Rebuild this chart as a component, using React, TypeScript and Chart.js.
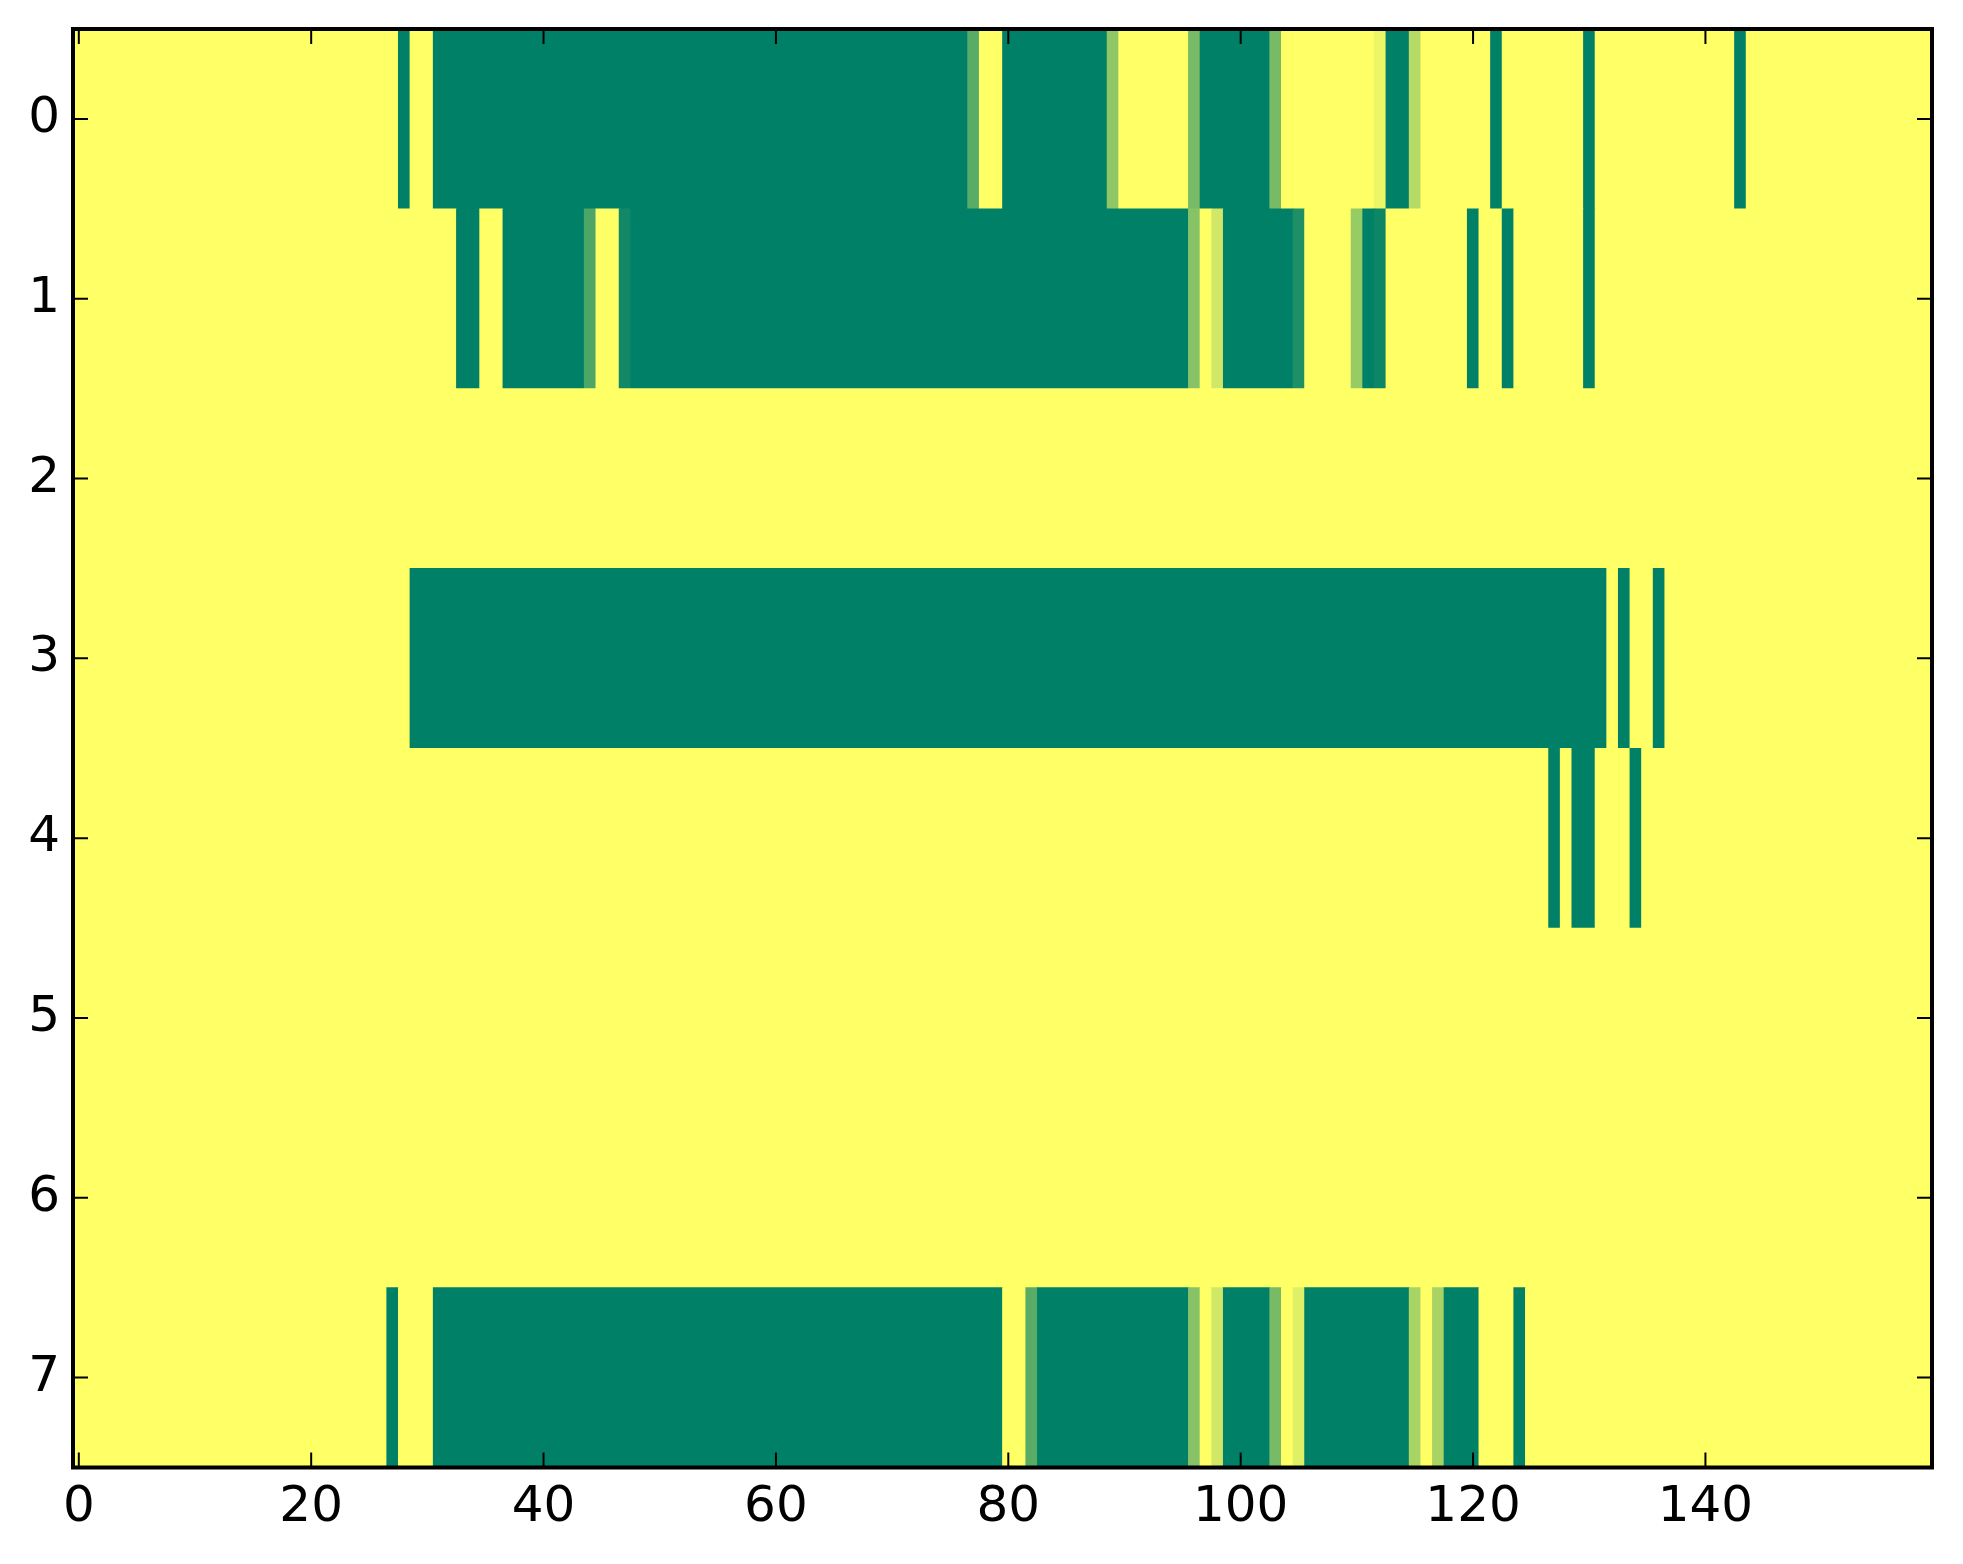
import { useEffect, useRef } from 'react';
import { Chart, registerables } from 'chart.js';

Chart.register(...registerables);

// rows of the image, top to bottom
const rowLabels = ['0', '1', '2', '3', '4', '5', '6', '7'];
const columnCount = 160;
const xTickValues = [0, 20, 40, 60, 80, 100, 120, 140];

// cells default to 1 (yellow); runs are [firstCol, lastCol, value]
const backgroundValue = 1;
const row0Runs = [
  [28, 28, 0], [31, 76, 0], [77, 77, 0.35], [80, 88, 0], [89, 89, 0.56],
  [96, 96, 0.47], [97, 102, 0], [103, 103, 0.47], [112, 112, 0.93],
  [113, 114, 0], [115, 115, 0.71], [122, 122, 0], [130, 130, 0], [143, 143, 0],
];
const row1Runs = [
  [33, 34, 0], [37, 43, 0], [44, 44, 0.3], [47, 47, 0.07], [48, 95, 0],
  [96, 96, 0.53], [98, 98, 0.82], [99, 104, 0], [105, 105, 0.12],
  [110, 110, 0.59], [111, 111, 0], [112, 112, 0.05], [120, 120, 0],
  [123, 123, 0], [130, 130, 0],
];
const row2Runs: number[][] = [];
const row3Runs = [[29, 131, 0], [133, 133, 0], [136, 136, 0]];
const row4Runs = [[127, 127, 0], [129, 130, 0], [134, 134, 0]];
const row5Runs: number[][] = [];
const row6Runs: number[][] = [];
const row7Runs = [
  [27, 27, 0], [31, 79, 0], [82, 82, 0.35], [83, 95, 0], [96, 96, 0.53],
  [98, 98, 0.82], [99, 102, 0], [103, 103, 0.47], [105, 105, 0.88],
  [106, 114, 0], [115, 115, 0.66], [117, 117, 0.66], [118, 120, 0], [124, 124, 0],
];
const allRowRuns = [row0Runs, row1Runs, row2Runs, row3Runs, row4Runs, row5Runs, row6Runs, row7Runs];

// matplotlib "summer" colormap
function summer(v: number) {
  const r = Math.round(255 * v);
  const g = Math.round(255 * (0.5 + v / 2));
  return `rgb(${r},${g},102)`;
}

function buildBars() {
  const points: { x: [number, number]; y: string }[] = [];
  const colors: string[] = [];
  allRowRuns.forEach((runs, r) => {
    const cells = new Array(columnCount).fill(backgroundValue);
    runs.forEach(([a, b, v]) => {
      for (let c = a; c <= b; c++) cells[c] = v;
    });
    let start = 0;
    for (let c = 1; c <= columnCount; c++) {
      if (c === columnCount || cells[c] !== cells[start]) {
        points.push({ x: [start - 0.5, c - 0.5], y: rowLabels[r] });
        colors.push(summer(cells[start]));
        start = c;
      }
    }
  });
  return { points, colors };
}

// inward ticks on all four sides plus the black frame, like matplotlib classic
const frameTicks = {
  id: 'frameTicks',
  afterDatasetsDraw(chart: Chart) {
    const { ctx, chartArea, scales } = chart;
    const { left, right, top, bottom } = chartArea;
    const len = 15;
    ctx.save();
    ctx.strokeStyle = '#000';
    ctx.lineWidth = 2;
    ctx.beginPath();
    const xs = scales.x;
    xs.ticks.forEach((_, i) => {
      const px = xs.getPixelForTick(i);
      ctx.moveTo(px, bottom); ctx.lineTo(px, bottom - len);
      ctx.moveTo(px, top); ctx.lineTo(px, top + len);
    });
    const ys = scales.y;
    ys.ticks.forEach((_, i) => {
      const py = ys.getPixelForTick(i);
      ctx.moveTo(left, py); ctx.lineTo(left + len, py);
      ctx.moveTo(right, py); ctx.lineTo(right - len, py);
    });
    ctx.stroke();
    ctx.lineWidth = 4;
    ctx.strokeRect(left, top, right - left, bottom - top);
    ctx.restore();
  },
};

export default function App() {
  const canvasRef = useRef<HTMLCanvasElement>(null);
  const chartRef = useRef<Chart | null>(null);

  useEffect(() => {
    if (!canvasRef.current) return;
    chartRef.current?.destroy();
    const { points, colors } = buildBars();
    const font = { family: '"DejaVu Sans", sans-serif', size: 50 };

    chartRef.current = new Chart(canvasRef.current, {
      type: 'bar',
      data: {
        labels: rowLabels,
        datasets: [
          {
            data: points as any,
            backgroundColor: colors,
            borderWidth: 0,
            categoryPercentage: 1,
            barPercentage: 1,
          },
        ],
      },
      options: {
        indexAxis: 'y',
        responsive: false,
        devicePixelRatio: 1,
        animation: false,
        layout: { padding: { top: 29, right: 31, left: 0, bottom: 0 } },
        plugins: { legend: { display: false }, tooltip: { enabled: false } },
        scales: {
          x: {
            type: 'linear',
            min: -0.5,
            max: columnCount - 0.5,
            grid: { display: false },
            border: { display: false },
            afterBuildTicks: (scale) => {
              scale.ticks = xTickValues.map((v) => ({ value: v }));
            },
            afterFit: (scale: any) => {
              scale.height = 96.5;
              scale.paddingLeft = 0;
              scale.paddingRight = 0;
            },
            ticks: { font, color: '#000', padding: 3, maxRotation: 0, autoSkip: false },
          },
          y: {
            type: 'category',
            offset: true,
            grid: { display: false },
            border: { display: false },
            afterFit: (scale: any) => {
              scale.width = 73;
              scale.paddingTop = 0;
              scale.paddingBottom = 0;
            },
            ticks: { font, color: '#000', padding: 5, autoSkip: false },
          },
        },
      },
      plugins: [frameTicks],
    });

    return () => {
      chartRef.current?.destroy();
      chartRef.current = null;
    };
  }, []);

  return (
    <div style={{ position: 'fixed', left: 0, top: 0, width: 1963, height: 1564, background: '#fff' }}>
      <canvas ref={canvasRef} width={1963} height={1564} style={{ display: 'block' }} />
    </div>
  );
}
